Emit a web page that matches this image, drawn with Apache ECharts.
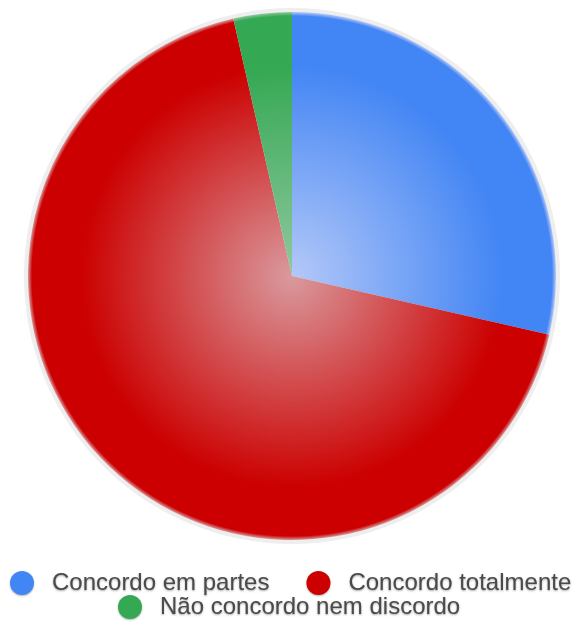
<!DOCTYPE html>
<html><head><meta charset="utf-8">
<script src="https://cdn.jsdelivr.net/npm/echarts@6/dist/echarts.min.js"></script>
<style>html,body{margin:0;padding:0;background:#fff;}#c{width:572px;height:622px;}</style>
</head><body><div id="c"></div>
<script>
const categories = ["Concordo em partes", "Concordo totalmente", "Não concordo nem discordo"];
const values = [8, 19, 1];
const baseColors = ["#4285F4", "#CC0000", "#34A853"];
const lightColors = ["#b4c8f8", "#d99a9e", "#8fc89f"];

const cx = 292, cy = 276, R = 264;
function grad(i){
  return {type:'radial', x:cx, y:cy, r:R, global:true, colorStops:[
    {offset:0, color:lightColors[i]},
    {offset:0.8, color:baseColors[i]},
    {offset:0.985, color:baseColors[i]},
    {offset:1, color:lightColors[i]}
  ]};
}
const chart = echarts.init(document.getElementById('c'));
const legendText = {fontFamily:'Liberation Sans, Arial, sans-serif', fontSize:24, color:'#4a4a4a',
  textShadowColor:'rgba(0,0,0,0.35)', textShadowBlur:2, textShadowOffsetY:1, padding:[0,0,0,13]};
const iconStyle = {shadowColor:'rgba(0,0,0,0.3)', shadowBlur:2, shadowOffsetY:1};
chart.setOption({
  backgroundColor:'#fff',
  animation:false,
  legend:[
    {top:571, left:10, padding:0, itemWidth:24, itemHeight:24, itemGap:37, icon:'circle', textStyle:legendText,
     data:[0,1].map(i=>({name:categories[i], itemStyle:Object.assign({color:baseColors[i]}, iconStyle)}))},
    {top:595, left:118, padding:0, itemWidth:24, itemHeight:24, icon:'circle', textStyle:legendText,
     data:[2].map(i=>({name:categories[i], itemStyle:Object.assign({color:baseColors[i]}, iconStyle)}))}
  ],
  series:[
    {type:'pie', silent:true, center:[cx,cy], radius:R+4, label:{show:false}, labelLine:{show:false},
     data:[{value:1, name:'_bg', itemStyle:{color:'#eeeeee'}}], legendHoverLink:false},
    {type:'pie', center:[cx,cy], radius:R, startAngle:90, clockwise:true,
     label:{show:false}, labelLine:{show:false},
     itemStyle:{borderWidth:0},
     data:categories.map((n,i)=>({name:n, value:values[i], itemStyle:{color:grad(i)}}))}
  ]
});
</script></body></html>
